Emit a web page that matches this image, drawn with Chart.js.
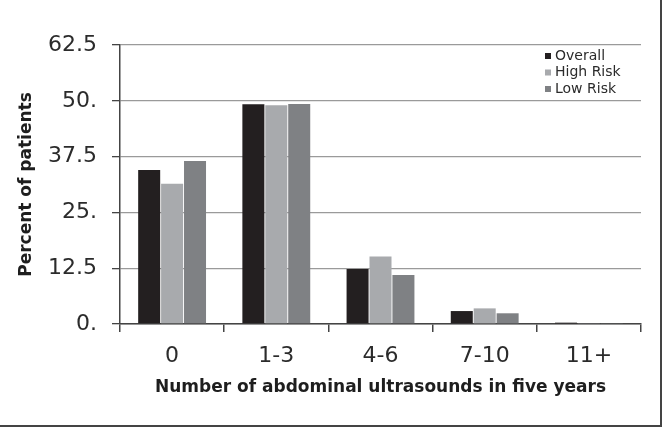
<!DOCTYPE html>
<html>
<head>
<meta charset="utf-8">
<script src="https://cdn.jsdelivr.net/npm/chart.js@4/dist/chart.umd.min.js"></script>
<style>
  html, body { margin: 0; padding: 0; background: #fff; }
  #wrap { width: 665px; height: 428px; }
</style>
</head>
<body>
<div id="wrap"><canvas id="chart" width="665" height="428"></canvas></div>
<script>
// data
var categories = ["0", "1-3", "4-6", "7-10", "11+"];
var overall = [34.5, 49.2, 12.3, 2.9, 0.3];
var highRisk = [31.4, 49.0, 15.1, 3.5, 0.1];
var lowRisk = [36.5, 49.3, 11.0, 2.4, 0.1];
var seriesNames = ["Overall", "High Risk", "Low Risk"];
var yTicks = [0, 12.5, 25, 37.5, 50, 62.5];

var colors = ["#231f20", "#a8aaad", "#7f8184"];
var textColor = "#2b2b2b";

// draws the legend inside the plot and the frame edges
var extras = {
	id: "extras",
	afterDraw: function (chart) {
		var ctx = chart.ctx;
		ctx.save();
		ctx.font = "14px 'DejaVu Sans'";
		ctx.textBaseline = "middle";
		chart.data.datasets.forEach(function (ds, i) {
			var y = 56 + i * 16.5;
			ctx.fillStyle = ds.backgroundColor;
			ctx.fillRect(545, y - 3, 6, 6);
			ctx.fillStyle = textColor;
			ctx.fillText(ds.label, 555, y);
		});
		ctx.strokeStyle = "#444";
		ctx.lineWidth = 2;
		ctx.beginPath();
		ctx.moveTo(661, 0);
		ctx.lineTo(661, 426);
		ctx.lineTo(0, 426);
		ctx.stroke();
		ctx.restore();
	}
};

var data = {
	labels: categories,
	datasets: [
		{ label: seriesNames[0], data: overall, backgroundColor: colors[0] },
		{ label: seriesNames[1], data: highRisk, backgroundColor: colors[1] },
		{ label: seriesNames[2], data: lowRisk, backgroundColor: colors[2] }
	]
};

var config = {
	type: "bar",
	data: data,
	plugins: [extras],
	options: {
		responsive: false,
		animation: false,
		layout: { padding: { left: 0, right: 24, top: 45, bottom: 4 } },
		datasets: {
			bar: { categoryPercentage: 0.66, barPercentage: 0.96, borderWidth: 0 }
		},
		plugins: {
			legend: { display: false },
			tooltip: { enabled: false }
		},
		scales: {
			x: {
				afterFit: function (scale) { scale.height = 100; },
				grid: {
					display: true,
					offset: true,
					drawOnChartArea: false,
					tickLength: 8,
					color: "#444",
					lineWidth: 1.5
				},
				border: { color: "#444", width: 1.5 },
				ticks: {
					padding: 11,
					color: textColor,
					font: { family: "'DejaVu Sans'", size: 22 },
					maxRotation: 0
				},
				title: {
					display: true,
					text: "Number of abdominal ultrasounds in five years",
					color: "#1e1e1e",
					font: { family: "'DejaVu Sans'", size: 17, weight: "bold" },
					padding: { top: 10, bottom: 26 }
				}
			},
			y: {
				min: 0,
				max: 62.5,
				afterFit: function (scale) { scale.width = 120; },
				afterBuildTicks: function (scale) {
					scale.ticks = yTicks.map(function (v) { return { value: v }; });
				},
				grid: {
					color: "#9a9a9a",
					lineWidth: 1.3,
					tickLength: 8,
					tickColor: "#444"
				},
				border: { color: "#444", width: 1.5 },
				ticks: {
					padding: 15,
					color: textColor,
					font: { family: "'DejaVu Sans'", size: 22 },
					callback: function (v) {
						return Number.isInteger(v) ? v + "." : String(v);
					}
				},
				title: {
					display: true,
					text: "Percent of patients",
					color: "#1e1e1e",
					font: { family: "'DejaVu Sans'", size: 17, weight: "bold" },
					padding: { top: 16, bottom: 0 }
				}
			}
		}
	}
};

var canvas = document.getElementById("chart");
var newChart = new Chart(canvas.getContext("2d"), config);
canvas.chart = newChart;
</script>
</body>
</html>
